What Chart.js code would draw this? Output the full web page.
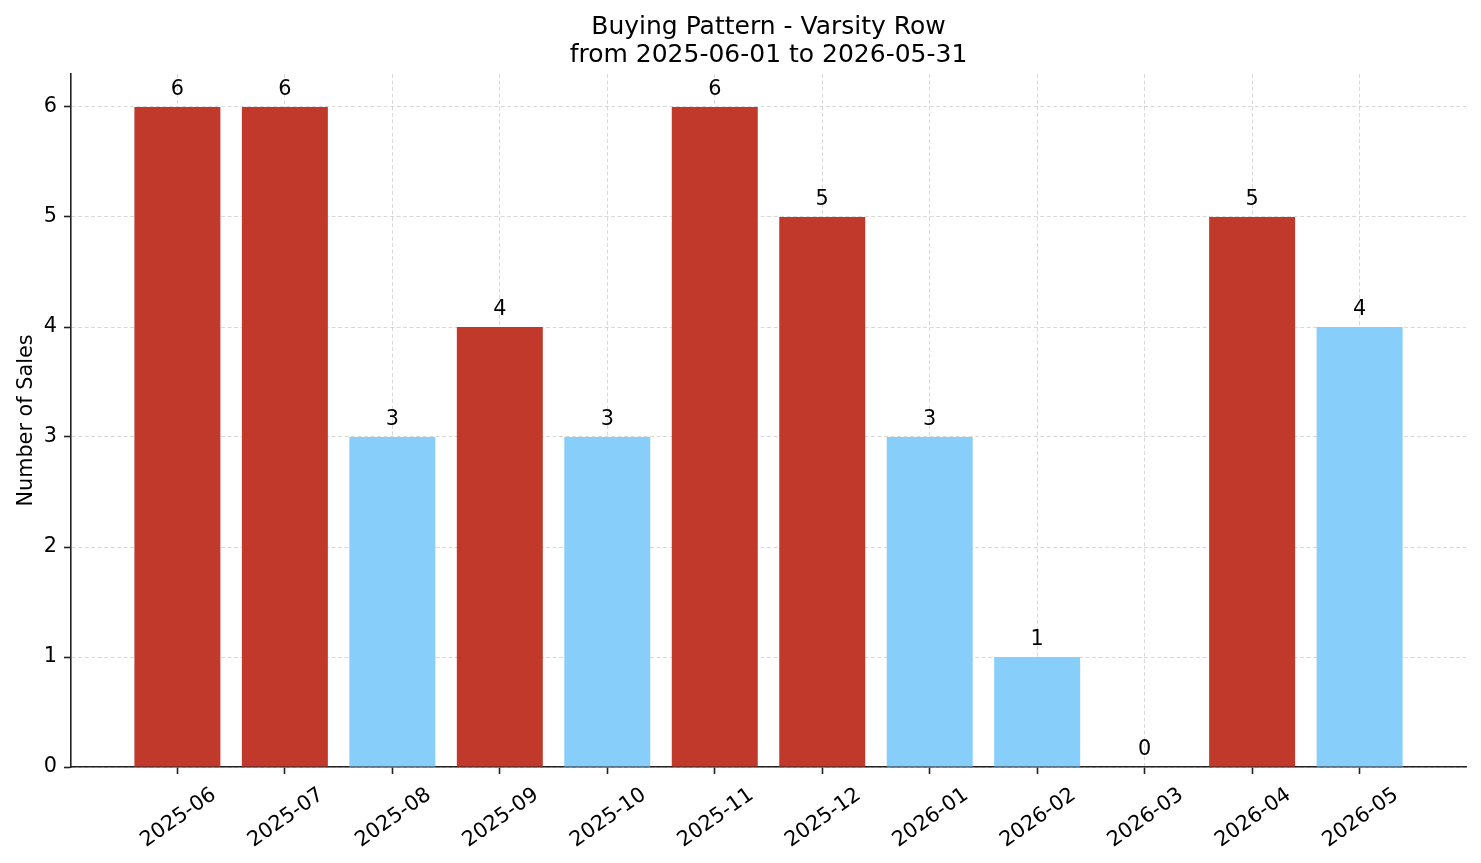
<!DOCTYPE html>
<html>
<head>
<meta charset="utf-8">
<script src="https://cdn.jsdelivr.net/npm/chart.js@4.4.1/dist/chart.umd.min.js"></script>
<style>
  html, body { margin: 0; padding: 0; background: #fff; }
  #wrap { width: 1481px; height: 863px; }
</style>
</head>
<body>
<div id="wrap"><canvas id="chart" width="1481" height="863"></canvas></div>
<script>
// data
const months = ['2025-06','2025-07','2025-08','2025-09','2025-10','2025-11',
                '2025-12','2026-01','2026-02','2026-03','2026-04','2026-05'];
const sales = [6, 6, 3, 4, 3, 6, 5, 3, 1, 0, 5, 4];
const highlight = [1, 1, 0, 1, 0, 1, 1, 0, 0, 0, 1, 0]; // rood = 1, blauw = 0
const yTicks = [0, 1, 2, 3, 4, 5, 6];
const titleLines = ['Buying Pattern - Varsity Row', 'from 2025-06-01 to 2026-05-31'];
const yLabel = 'Number of Sales';

const FONT = 'DejaVu Sans';
const RED = '#c0392b', BLUE = '#87cefa';
const barColors = highlight.map(h => h ? RED : BLUE);

const gridOpts = {
    color: 'rgba(170,170,170,0.45)',
    lineWidth: 1,
    tickColor: '#222',
    tickWidth: 1.6,
    tickLength: 7,
    tickBorderDash: []
};
const borderOpts = {display: true, color: '#222', width: 1.6, dash: [4, 2.5]};

// titel, y-label, x-labels gedraaid (gecentreerd zoals matplotlib)
const textPlugin = {
    id: 'texts',
    afterDraw(chart) {
        const ctx = chart.ctx, area = chart.chartArea;
        ctx.save();
        ctx.fillStyle = '#000';
        // titel
        ctx.font = '25px "' + FONT + '"';
        ctx.textAlign = 'center';
        ctx.textBaseline = 'alphabetic';
        const cx = (area.left + area.right) / 2;
        ctx.fillText(titleLines[0], cx, 33.5);
        ctx.fillText(titleLines[1], cx, 62);
        // y label
        ctx.font = '20.8px "' + FONT + '"';
        ctx.save();
        ctx.translate(32, (area.top + area.bottom) / 2);
        ctx.rotate(-Math.PI / 2);
        ctx.fillText(yLabel, 0, 0);
        ctx.restore();
        // x tick labels
        const xs = chart.scales.x;
        const ang = 35 * Math.PI / 180;
        const fs = 20.8, H = 1.164 * fs;
        months.forEach((m, i) => {
            const w = ctx.measureText(m).width;
            const bh = w * Math.sin(ang) + H * Math.cos(ang);
            const x = xs.getPixelForValue(i);
            const y = area.bottom + 7.3 + 7.3 + bh / 2;
            ctx.save();
            ctx.translate(x, y);
            ctx.rotate(-ang);
            ctx.fillText(m, 0, 0.346 * fs);
            ctx.restore();
        });
        ctx.restore();
    }
};

// waarden boven de staven
const valuePlugin = {
    id: 'values',
    afterDatasetsDraw(chart) {
        const ctx = chart.ctx;
        const meta = chart.getDatasetMeta(0);
        ctx.save();
        ctx.font = '20.8px "' + FONT + '"';
        ctx.fillStyle = '#000';
        ctx.textAlign = 'center';
        ctx.textBaseline = 'alphabetic';
        meta.data.forEach((bar, i) => {
            ctx.fillText(String(sales[i]), bar.x, bar.y - 12);
        });
        ctx.restore();
    }
};

new Chart(document.getElementById('chart'), {
    type: 'bar',
    data: {
        datasets: [{
            data: sales.map((v, i) => ({x: i, y: v})),
            backgroundColor: barColors,
            borderWidth: 0,
            barPercentage: 0.8,
            categoryPercentage: 1.0
        }]
    },
    options: {
        responsive: false,
        animation: false,
        layout: {padding: {top: 74, left: 0, right: 15, bottom: 0}},
        plugins: {legend: {display: false}, title: {display: false}, tooltip: {enabled: false}},
        scales: {
            x: {
                type: 'linear',
                offset: false,
                min: -0.99,
                max: 11.99,
                z: 1,
                grid: Object.assign({offset: false}, gridOpts),
                border: borderOpts,
                ticks: {color: 'rgba(0,0,0,0)', stepSize: 1, includeBounds: false},
                afterBuildTicks: s => { s.ticks = months.map((_, i) => ({value: i})); },
                afterFit: s => { s.height = 96; }
            },
            y: {
                min: 0,
                max: 6.3,
                z: 1,
                grid: gridOpts,
                border: borderOpts,
                ticks: {
                    color: '#000',
                    font: {family: FONT, size: 20.8},
                    padding: 7,
                    includeBounds: false
                },
                afterBuildTicks: s => { s.ticks = yTicks.map(v => ({value: v})); },
                afterFit: s => { s.width = 71; }
            }
        }
    },
    plugins: [textPlugin, valuePlugin]
});
</script>
</body>
</html>
